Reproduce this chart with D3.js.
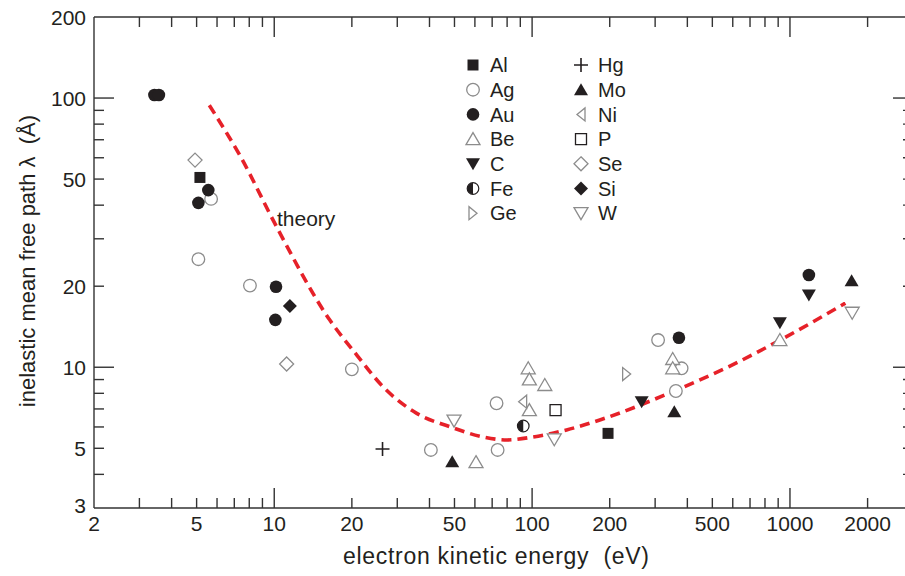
<!DOCTYPE html>
<html><head><meta charset="utf-8">
<script src="https://cdn.jsdelivr.net/npm/d3@7"></script>
<style>
html,body{margin:0;padding:0;background:#fff;}
svg{display:block;font-family:"Liberation Sans",Arial,Helvetica,sans-serif;}
text{white-space:pre;}
</style></head>
<body>
<svg id="chart" width="905" height="576"></svg>
<script>
// ---- data (electron kinetic energy in eV, inelastic mean free path in Å) ----
const theoryE = [5.6, 7.4, 10.2, 16.4, 20.9, 26.4, 35.7, 48, 64.5, 80, 101, 136, 183, 363, 585, 914, 1640];
const theoryL = [94, 60.6, 33.3, 15.0, 11.1, 8.47, 6.74, 6.01, 5.51, 5.37, 5.51, 5.85, 6.37, 8.23, 10.1, 12.6, 17.3];

const alE = [5.15, 197];            const alL = [50.7, 5.68];
const agE = [5.69, 5.08, 8.05, 20, 40.5, 73.5, 72.8, 308, 380, 361];
const agL = [42.2, 25.2, 20.1, 9.82, 4.93, 4.93, 7.35, 12.62, 9.91, 8.16];
const auE = [3.43, 3.57, 5.55, 5.08, 10.16, 10.1, 371, 1184];
const auL = [102.6, 102.6, 45.5, 40.8, 19.9, 15.0, 12.87, 22.0];
const beE = [60.6, 96.6, 97.6, 112, 97.6, 351, 351, 914];
const beL = [4.44, 9.91, 9.02, 8.59, 6.93, 10.73, 9.91, 12.62];
const cE  = [266, 914, 1184];       const cL  = [7.45, 14.63, 18.55];
const feE = [92.4];                 const feL = [6.05];
const geE = [232.6];                const geL = [9.43];
const hgE = [26.3];                 const hgL = [4.97];
const moE = [49.0, 356, 1734];      const moL = [4.46, 6.84, 20.96];
const niE = [91.9];                 const niL = [7.45];
const pE  = [123.3];                const pL  = [6.93];
const seE = [4.93, 11.17];          const seL = [58.8, 10.28];
const siE = [11.5];                 const siL = [16.9];
const wE  = [49.8, 121.9, 1743];    const wL  = [6.33, 5.40, 15.94];

const legendCol1 = ["Al","Ag","Au","Be","C","Fe","Ge"];
const legendCol2 = ["Hg","Mo","Ni","P","Se","Si","W"];

const xTickLabels = [2, 5, 10, 20, 50, 100, 200, 500, 1000, 2000];
const xMinorTicks = [3,4,5,6,7,8,9,20,30,40,50,60,70,80,90,200,300,400,500,600,700,800,900,2000];
const xMajorTicks = [10, 100, 1000];
const yTickLabels = [3, 5, 10, 20, 50, 100, 200];
const yMinorTicks = [4,5,6,7,8,9,20,30,40,50,60,70,80,90];
const yMajorTicks = [10, 100];

const xTitle = "electron kinetic energy  (eV)";
const yTitle = "inelastic mean free path λ  (Å)";
const theoryLabel = "theory";

// ---- build tables ----
const seriesDefs = [
  ["Al", alE, alL], ["Ag", agE, agL], ["Au", auE, auL], ["Be", beE, beL],
  ["C", cE, cL], ["Fe", feE, feL], ["Ge", geE, geL], ["Hg", hgE, hgL],
  ["Mo", moE, moL], ["Ni", niE, niL], ["P", pE, pL], ["Se", seE, seL],
  ["Si", siE, siL], ["W", wE, wL]
];
const points = [];
seriesDefs.forEach(([name, es, ls]) => es.forEach((e, i) => points.push({name, e, l: ls[i]})));
const theory = theoryE.map((e, i) => ({e, l: theoryL[i]}));

// ---- layout ----
const svg = d3.select("#chart");
const x = d3.scaleLog().domain([2, 3000]).range([94, 913]);
const y = d3.scaleLog().domain([3, 200]).range([508, 17]);
const ink = "#231f20";
const grey = "#8c8c8c";

const style = {
  Al: {shape:"square", fill:ink, stroke:"none"},
  Ag: {shape:"circle", fill:"#fff", stroke:grey},
  Au: {shape:"circle", fill:ink, stroke:"none"},
  Be: {shape:"up", fill:"#fff", stroke:grey},
  C:  {shape:"down", fill:ink, stroke:"none"},
  Fe: {shape:"half", fill:ink, stroke:ink},
  Ge: {shape:"right", fill:"#fff", stroke:grey},
  Hg: {shape:"plus", fill:"none", stroke:ink},
  Mo: {shape:"up", fill:ink, stroke:"none"},
  Ni: {shape:"left", fill:"#fff", stroke:grey},
  P:  {shape:"square", fill:"#fff", stroke:ink},
  Se: {shape:"diamond", fill:"#fff", stroke:grey},
  Si: {shape:"diamond", fill:ink, stroke:"none"},
  W:  {shape:"down", fill:"#fff", stroke:grey}
};
function shapePath(shape){
  switch(shape){
    case "square": return "M-5.5,-5.5H5.5V5.5H-5.5Z";
    case "circle": return d3.arc()({innerRadius:0, outerRadius:6.3, startAngle:0, endAngle:2*Math.PI});
    case "up": return "M0,-6.5L7,5.5L-7,5.5Z";
    case "down": return "M0,6.5L7,-5.5L-7,-5.5Z";
    case "left": return "M-4,0L4,-6.5L4,6.5Z";
    case "right": return "M4,0L-4,-6.5L-4,6.5Z";
    case "diamond": return "M0,-7L7,0L0,7L-7,0Z";
    case "plus": return "M-7,0H7M0,-7V7";
    default: return "";
  }
}
function drawMarker(g, name){
  const s = style[name];
  if (s.shape === "half"){
    g.append("circle").attr("r", 5.8).attr("fill", "#fff").attr("stroke", ink).attr("stroke-width", 1.2);
    g.append("path").attr("d", d3.arc()({innerRadius:0, outerRadius:5.8, startAngle:Math.PI, endAngle:2*Math.PI})).attr("fill", ink);
    return;
  }
  g.append("path").attr("d", shapePath(s.shape))
    .attr("fill", s.fill).attr("stroke", s.stroke)
    .attr("stroke-width", s.shape === "plus" ? 1.6 : 1.3)
    .attr("stroke-linejoin", "miter");
}

// ---- axes ----
const axisG = svg.append("g").attr("stroke", "#333").attr("stroke-width", 1.4);
axisG.append("line").attr("x1", x(2)).attr("x2", x(3000)).attr("y1", y(3)).attr("y2", y(3));
axisG.append("line").attr("x1", x(2)).attr("x2", x(3000)).attr("y1", y(200)).attr("y2", y(200));
axisG.append("line").attr("x1", x(2)).attr("x2", x(2)).attr("y1", y(3)).attr("y2", y(200));
axisG.append("line").attr("x1", x(3000)).attr("x2", x(3000)).attr("y1", y(3)).attr("y2", y(200));

function xTicks(vals, len){
  vals.forEach(v => {
    axisG.append("line").attr("x1", x(v)).attr("x2", x(v)).attr("y1", y(3)).attr("y2", y(3) - len);
    axisG.append("line").attr("x1", x(v)).attr("x2", x(v)).attr("y1", y(200)).attr("y2", y(200) + len);
  });
}
function yTicks(vals, len){
  vals.forEach(v => {
    axisG.append("line").attr("y1", y(v)).attr("y2", y(v)).attr("x1", x(2)).attr("x2", x(2) + len);
    axisG.append("line").attr("y1", y(v)).attr("y2", y(v)).attr("x1", x(3000)).attr("x2", x(3000) - len);
  });
}
xTicks(xMinorTicks, 10); xTicks(xMajorTicks, 20);
yTicks(yMinorTicks, 10); yTicks(yMajorTicks, 20);

const labelG = svg.append("g").attr("fill", ink).attr("font-size", 21);
labelG.selectAll(".xl").data(xTickLabels).join("text")
  .attr("x", d => x(d)).attr("y", 531).attr("text-anchor", "middle").text(d => d);
labelG.selectAll(".yl").data(yTickLabels).join("text")
  .attr("x", 86).attr("y", d => y(d) + (d === 3 ? -3 : 0)).attr("dy", "0.36em")
  .attr("text-anchor", "end").text(d => d);

svg.append("text").attr("x", 496).attr("y", 564).attr("text-anchor", "middle")
  .attr("font-size", 23).attr("textLength", 306).attr("lengthAdjust", "spacing")
  .attr("fill", ink).text(xTitle);
svg.append("text").attr("transform", "translate(35,261) rotate(-90)").attr("text-anchor", "middle")
  .attr("font-size", 22).attr("fill", ink).text(yTitle);

// ---- theory curve ----
svg.append("path").datum(theory)
  .attr("d", d3.line().x(d => x(d.e)).y(d => y(d.l)).curve(d3.curveMonotoneX))
  .attr("fill", "none").attr("stroke", "#e62129").attr("stroke-width", 3.6)
  .attr("stroke-dasharray", "10,6");
svg.append("text").attr("x", 277).attr("y", 226).attr("font-size", 21).attr("fill", ink).text(theoryLabel);

// ---- data points (open markers beneath filled ones) ----
const ordered = points.slice().sort((a, b) => {
  const fa = style[a.name].fill === ink ? 1 : 0, fb = style[b.name].fill === ink ? 1 : 0;
  return fa - fb;
});
ordered.forEach(p => {
  const g = svg.append("g").attr("transform", `translate(${x(p.e)},${y(p.l)})`);
  drawMarker(g, p.name);
});

// ---- legend ----
function legendColumn(names, mx, tx){
  names.forEach((n, i) => {
    const yy = 65 + i * 24.7;
    const g = svg.append("g").attr("transform", `translate(${mx},${yy})`);
    drawMarker(g, n);
    svg.append("text").attr("x", tx).attr("y", yy).attr("dy", "0.36em")
      .attr("font-size", 20).attr("fill", ink).text(n);
  });
}
legendColumn(legendCol1, 473, 490);
legendColumn(legendCol2, 581, 598);
</script>
</body></html>
